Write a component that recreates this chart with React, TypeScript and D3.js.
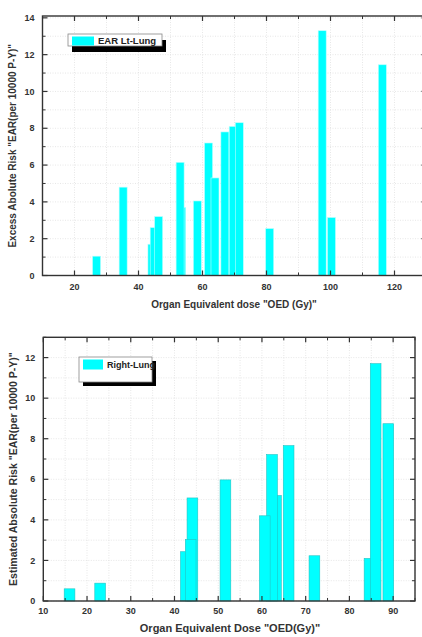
import React from "react";
import * as d3 from "d3";

// ---------- data ----------
const TOP_OED = [26.9, 35.2, 44.2, 44.9, 46.3, 53.5, 53.0, 58.4, 61.9, 63.9, 67.0, 69.6, 71.5, 81.0, 97.4, 100.3, 116.2];
const TOP_EAR = [1.05, 4.8, 1.7, 2.6, 3.2, 3.7, 6.15, 4.05, 7.2, 5.3, 7.8, 8.1, 8.3, 2.55, 13.3, 3.15, 11.45];
const TOP_X_TICKS = [20, 40, 60, 80, 100, 120];
const TOP_X_MINOR = [10, 30, 50, 70, 90, 110, 130];
const TOP_Y_TICKS = [0, 2, 4, 6, 8, 10, 12, 14];
const TOP_Y_MINOR = [1, 3, 5, 7, 9, 11, 13];

const BOT_OED = [16.0, 23.0, 42.6, 44.1, 43.7, 51.65, 63.2, 62.3, 60.65, 66.1, 72.0, 84.6, 86.0, 88.9];
const BOT_EAR = [0.6, 0.88, 2.43, 5.08, 3.03, 5.97, 5.2, 7.22, 4.2, 7.66, 2.23, 2.1, 11.7, 8.74];
const BOT_X_TICKS = [10, 20, 30, 40, 50, 60, 70, 80, 90];
const BOT_X_MINOR = [15, 25, 35, 45, 55, 65, 75, 85, 95];
const BOT_Y_TICKS = [0, 2, 4, 6, 8, 10, 12];
const BOT_Y_MINOR = [1, 3, 5, 7, 9, 11, 13];

const FONT = "'Liberation Sans', Arial, Helvetica, sans-serif";
const CYAN = "#00ffff";

type ChartProps = {
  xs: number[];
  ys: number[];
  xDomain: [number, number];
  xRange: [number, number];
  yDomain: [number, number];
  yRange: [number, number];
  xTicks: number[];
  xMinor: number[];
  yTicks: number[];
  yMinor: number[];
  barW: number;
  barStroke: string;
  xLabel: string;
  yLabel: string;
  xLabelX: number;
  xLabelY: number;
  xLabelSize: number;
  yLabelX: number;
  yLabelSize: number;
  xTickLabelDy: number;
  legend: { x: number; y: number; w: number; h: number; sx: number; sy: number; text: string; swW: number; swH: number; fs: number };
};

function Chart(p: ChartProps) {
  const x = d3.scaleLinear().domain(p.xDomain).range(p.xRange);
  const y = d3.scaleLinear().domain(p.yDomain).range(p.yRange);
  const [x0, x1] = p.xRange;
  const [y0, y1] = p.yRange; // y0 bottom, y1 top
  const gridX = [...p.xTicks, ...p.xMinor];
  const gridY = [...p.yTicks, ...p.yMinor];
  const L = p.legend;
  return (
    <g>
      {/* grid */}
      {gridX.map((v, i) => (
        <line key={"gx" + i} x1={x(v)} x2={x(v)} y1={y0} y2={y1} stroke="#dcdcdc" strokeWidth={0.7} strokeDasharray="1,1.5" />
      ))}
      {gridY.map((v, i) => (
        <line key={"gy" + i} x1={x0} x2={x1} y1={y(v)} y2={y(v)} stroke="#dcdcdc" strokeWidth={0.7} strokeDasharray="1,1.5" />
      ))}
      {/* bars */}
      {p.xs.map((v, i) => {
        const left = x(v - p.barW / 2);
        const right = x(v + p.barW / 2);
        return (
          <rect key={"b" + i} x={left} y={y(p.ys[i])} width={right - left} height={y(0) - y(p.ys[i])} fill={CYAN} stroke={p.barStroke} strokeWidth={0.6} />
        );
      })}
      {/* frame */}
      <rect x={x0} y={y1} width={x1 - x0} height={y0 - y1} fill="none" stroke="#333" strokeWidth={1.4} />
      {/* x ticks (inward, bottom & top) */}
      {p.xTicks.map((v, i) => (
        <g key={"xt" + i}>
          <line x1={x(v)} x2={x(v)} y1={y0} y2={y0 - 5} stroke="#333" strokeWidth={1.2} />
          <line x1={x(v)} x2={x(v)} y1={y1} y2={y1 + 5} stroke="#333" strokeWidth={1.2} />
          <text x={x(v)} y={y0 + p.xTickLabelDy} textAnchor="middle" fontFamily={FONT} fontWeight="bold" fontSize={9} fill="#333">{v}</text>
        </g>
      ))}
      {p.xMinor.map((v, i) => (
        <g key={"xm" + i}>
          <line x1={x(v)} x2={x(v)} y1={y0} y2={y0 - 3} stroke="#333" strokeWidth={1} />
          <line x1={x(v)} x2={x(v)} y1={y1} y2={y1 + 3} stroke="#333" strokeWidth={1} />
        </g>
      ))}
      {/* y ticks (inward, left & right) */}
      {p.yTicks.map((v, i) => (
        <g key={"yt" + i}>
          <line x1={x0} x2={x0 + 5} y1={y(v)} y2={y(v)} stroke="#333" strokeWidth={1.2} />
          <line x1={x1} x2={x1 - 5} y1={y(v)} y2={y(v)} stroke="#333" strokeWidth={1.2} />
          <text x={x0 - 8} y={y(v) + 3.2} textAnchor="end" fontFamily={FONT} fontWeight="bold" fontSize={9} fill="#333">{v}</text>
        </g>
      ))}
      {p.yMinor.map((v, i) => (
        <g key={"ym" + i}>
          <line x1={x0} x2={x0 + 3} y1={y(v)} y2={y(v)} stroke="#333" strokeWidth={1} />
          <line x1={x1} x2={x1 - 3} y1={y(v)} y2={y(v)} stroke="#333" strokeWidth={1} />
        </g>
      ))}
      {/* labels */}
      <text x={p.xLabelX} y={p.xLabelY} textAnchor="middle" fontFamily={FONT} fontWeight="bold" fontSize={p.xLabelSize} fill="#333">{p.xLabel}</text>
      <text transform={`translate(${p.yLabelX},${(y0 + y1) / 2}) rotate(-90)`} textAnchor="middle" fontFamily={FONT} fontWeight="bold" fontSize={p.yLabelSize} fill="#333">{p.yLabel}</text>
      {/* legend */}
      <rect x={L.x + L.sx} y={L.y + L.sy} width={L.w} height={L.h} fill="#000" />
      <rect x={L.x} y={L.y} width={L.w} height={L.h} fill="#fff" stroke="#888" strokeWidth={0.8} />
      <rect x={L.x + 4} y={L.y + 2.5} width={L.swW} height={L.swH} fill={CYAN} />
      <text x={L.x + 8 + L.swW} y={L.y + 2.5 + L.swH - 1.5} fontFamily={FONT} fontWeight="bold" fontSize={L.fs} fill="#222">{L.text}</text>
    </g>
  );
}

export default function App() {
  return (
    <svg width={422} height={637} style={{ position: "absolute", left: 0, top: 0, background: "#fff" }}>
      <Chart
        xs={TOP_OED}
        ys={TOP_EAR}
        xDomain={[10, 130]}
        xRange={[42.5, 426.5]}
        yDomain={[0, 14.1]}
        yRange={[275.5, 16]}
        xTicks={TOP_X_TICKS}
        xMinor={TOP_X_MINOR}
        yTicks={TOP_Y_TICKS}
        yMinor={TOP_Y_MINOR}
        barW={2.5}
        barStroke="#b8ffff"
        xLabel={'Organ Equivalent dose "OED (Gy)"'}
        yLabel={'Excess Abolute Risk "EAR(per 10000 P-Y)"'}
        xLabelX={234}
        xLabelY={308}
        xLabelSize={10}
        yLabelX={16}
        yLabelSize={10}
        xTickLabelDy={14}
        legend={{ x: 68, y: 34, w: 94, h: 12, sx: 4, sy: 6, text: "EAR Lt-Lung", swW: 22, swH: 9, fs: 9.5 }}
      />
      <Chart
        xs={BOT_OED}
        ys={BOT_EAR}
        xDomain={[10, 95]}
        xRange={[43.3, 415]}
        yDomain={[0, 13]}
        yRange={[601, 337.3]}
        xTicks={BOT_X_TICKS}
        xMinor={BOT_X_MINOR}
        yTicks={BOT_Y_TICKS}
        yMinor={BOT_Y_MINOR}
        barW={2.45}
        barStroke="#22c4c4"
        xLabel={'Organ Equivalent Dose "OED(Gy)"'}
        yLabel={'Estimated Absolute Risk "EAR(per 10000 P-Y)"'}
        xLabelX={230}
        xLabelY={632}
        xLabelSize={11}
        yLabelX={17}
        yLabelSize={10.5}
        xTickLabelDy={13}
        legend={{ x: 79, y: 357, w: 73, h: 25, sx: 4, sy: 4, text: "Right-Lung", swW: 20, swH: 10, fs: 9 }}
      />
    </svg>
  );
}
